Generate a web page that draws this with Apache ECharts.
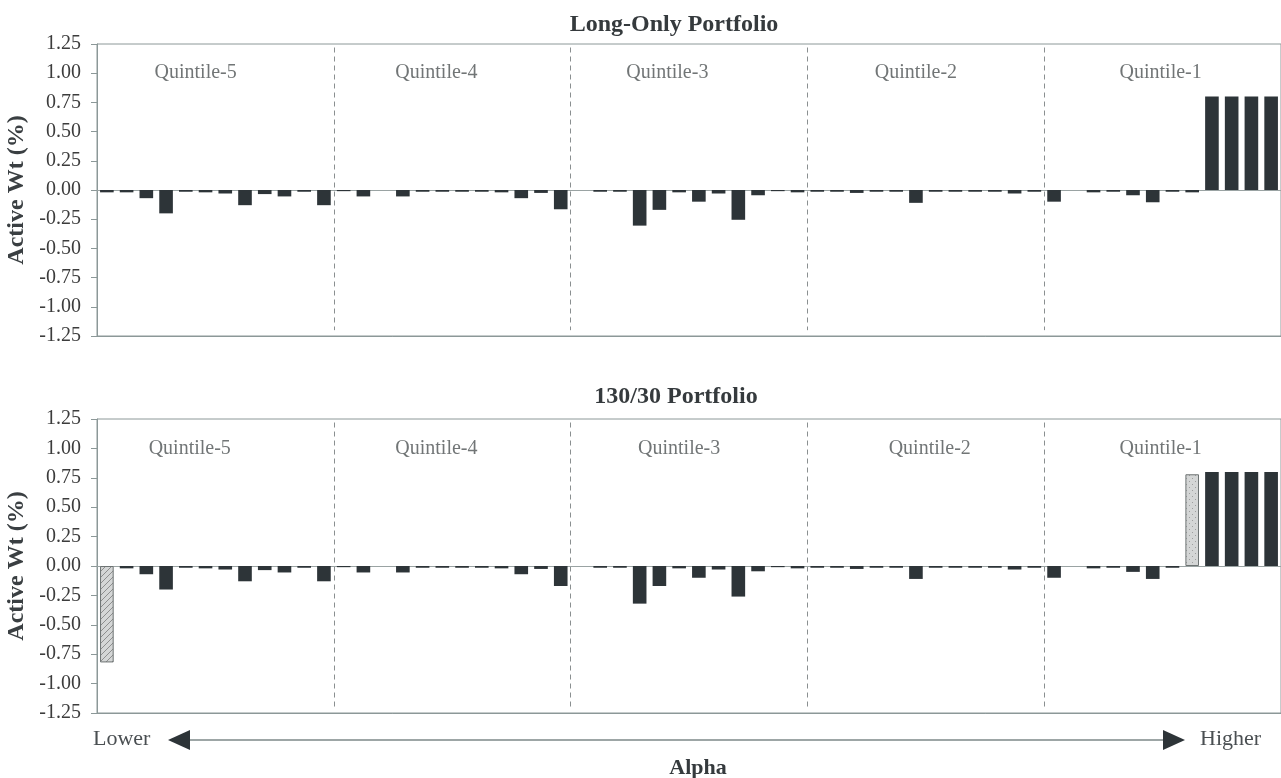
<!DOCTYPE html>
<html><head><meta charset="utf-8">
<script src="https://cdn.jsdelivr.net/npm/echarts@6/dist/echarts.min.js"></script>
<style>html,body{margin:0;padding:0;background:#fff}#c{width:1281px;height:778px}</style>
</head><body><div id="c"></div>
<script>
// ---------- DATA ----------
const categories = ['1','2','3','4','5','6','7','8','9','10','11','12',
  '13','14','15','16','17','18','19','20','21','22','23','24',
  '25','26','27','28','29','30','31','32','33','34','35','36',
  '37','38','39','40','41','42','43','44','45','46','47','48',
  '49','50','51','52','53','54','55','56','57','58','59','60'];
const quintileNames = ['Quintile-5','Quintile-4','Quintile-3','Quintile-2','Quintile-1'];
const stocksPerQuintile = 12;
const yMin = -1.25, yMax = 1.25, yStep = 0.25;

// Long-only portfolio active weights (%)
const longOnly = [
  -0.02,-0.02,-0.07,-0.20,-0.015,-0.02,-0.03,-0.13,-0.035,-0.055,-0.015,-0.13,
  -0.01,-0.055,0,-0.055,-0.015,-0.015,-0.015,-0.015,-0.02,-0.07,-0.025,-0.165,
  0,-0.015,-0.015,-0.305,-0.17,-0.02,-0.10,-0.03,-0.255,-0.045,-0.01,-0.02,
  -0.015,-0.015,-0.025,-0.015,-0.015,-0.11,-0.015,-0.015,-0.015,-0.015,-0.03,-0.015,
  -0.10,0,-0.02,-0.015,-0.045,-0.105,-0.015,-0.02,0.80,0.80,0.80,0.80];

// 130/30 portfolio: core positions
const core13030 = [
  null,-0.02,-0.07,-0.20,-0.015,-0.02,-0.03,-0.13,-0.035,-0.055,-0.015,-0.13,
  -0.01,-0.055,0,-0.055,-0.015,-0.015,-0.015,-0.015,-0.02,-0.07,-0.025,-0.17,
  0,-0.015,-0.015,-0.32,-0.17,-0.02,-0.10,-0.03,-0.26,-0.045,-0.01,-0.02,
  -0.015,-0.015,-0.025,-0.015,-0.015,-0.11,-0.015,-0.015,-0.015,-0.015,-0.03,-0.015,
  -0.10,0,-0.02,-0.015,-0.05,-0.11,-0.015,null,0.80,0.80,0.80,0.80];
// 130/30 portfolio: extension (short / extra long) positions
const ext13030 = [
  -0.82,null,null,null,null,null,null,null,null,null,null,null,
  null,null,null,null,null,null,null,null,null,null,null,null,
  null,null,null,null,null,null,null,null,null,null,null,null,
  null,null,null,null,null,null,null,null,null,null,null,null,
  null,null,null,null,null,null,null,0.78,null,null,null,null];

// ---------- STYLE ----------
const SERIF = '"Liberation Serif","Times New Roman",serif';
const DARK = '#2d3438';
const AXIS = '#8c9898';
const labelShiftTop = [-1.0,-0.8,-1.1,-0.5,-0.1];
const labelShiftBot = [-1.3,-0.8,-0.5,0.2,-0.1];

function makePattern(kind){
  const c = document.createElement('canvas');
  c.width = 6; c.height = 6;
  const g = c.getContext('2d');
  g.fillStyle = '#d4d6d6'; g.fillRect(0,0,6,6);
  g.strokeStyle = 'rgba(70,70,70,0.5)'; g.fillStyle='rgba(90,90,90,0.45)';
  if(kind==='hatch'){
    g.lineWidth = 1;
    g.beginPath(); g.moveTo(0,6); g.lineTo(6,0); g.moveTo(-3,3); g.lineTo(3,-3); g.moveTo(3,9); g.lineTo(9,3); g.stroke();
  } else {
    g.fillRect(1,1,1,1); g.fillRect(4,4,1,1);
  }
  return {image:c, repeat:'repeat'};
}
const hatch = makePattern('hatch');
const dots = makePattern('dots');

const chart = echarts.init(document.getElementById('c'), null, {renderer:'canvas'});

const grids = [
  {left:97, right:0, top:44, height:292},
  {left:97, right:0, top:419, height:294}
];

function yAxisFor(gi){
  return {
    type:'value', gridIndex:gi, min:yMin, max:yMax, interval:yStep,
    name:'Active Wt (%)', nameLocation:'middle', nameGap:57,
    nameTextStyle:{fontFamily:SERIF, fontWeight:'bold', fontSize:24, color:'#3a3f42'},
    axisLine:{show:true, onZero:false, lineStyle:{color:AXIS, width:1}},
    axisTick:{show:true, length:6, lineStyle:{color:AXIS}},
    axisLabel:{fontFamily:SERIF, fontSize:20, color:'#3c3c3c', margin:16,
      formatter:v=>v.toFixed(2)},
    splitLine:{show:false}
  };
}
function catAxisFor(gi){
  return {type:'category', gridIndex:gi, data:categories,
    axisLine:{show:true, onZero:false, lineStyle:{color:AXIS}},
    axisTick:{show:false}, axisLabel:{show:false}, splitLine:{show:false}};
}
function valAxisFor(gi){
  return {type:'value', gridIndex:gi, min:-0.5, max:categories.length-0.5,
    show:false, axisLine:{onZero:false}, splitLine:{show:false}};
}

function overlaySeries(xi, yi, shifts){
  const lbl = quintileNames.map((q,i)=>[i*stocksPerQuintile + (stocksPerQuintile-1)/2 + shifts[i], 1.0, q]);
  const divs = [];
  for(let i=1;i<quintileNames.length;i++){
    const x = i*stocksPerQuintile - 0.5;
    divs.push([{coord:[x, yMax-0.03]},{coord:[x, yMin+0.05]}]);
  }
  return {
    type:'scatter', xAxisIndex:xi, yAxisIndex:yi, z:1, silent:true,
    symbolSize:1, itemStyle:{color:'rgba(0,0,0,0)'},
    data:lbl,
    label:{show:true, position:'inside', formatter:p=>p.data[2],
      fontFamily:SERIF, fontSize:20, color:'#4d5254'},
    markLine:{silent:true, symbol:['none','none'], z:1,
      label:{show:false},
      lineStyle:{color:'#8a8f90', type:[5,4], width:1},
      data:divs.concat([[{coord:[-0.5,0], lineStyle:{type:'solid', color:'#9aa3a3', width:1}},
                         {coord:[categories.length-0.5,0], lineStyle:{type:'solid', color:'#9aa3a3', width:1}}]])}
  };
}

const option = {
  animation:false,
  backgroundColor:'#fff',
  grid: grids.map(g=>Object.assign({show:true, borderColor:AXIS, borderWidth:1, backgroundColor:'transparent', containLabel:false, outerBoundsMode:'none'}, g)),
  xAxis:[catAxisFor(0), valAxisFor(0), catAxisFor(1), valAxisFor(1)],
  yAxis:[yAxisFor(0), yAxisFor(1)],
  series:[
    overlaySeries(1,0,labelShiftTop),
    overlaySeries(3,1,labelShiftBot),
    {type:'bar', xAxisIndex:0, yAxisIndex:0, data:longOnly, barWidth:'69%',
      itemStyle:{color:DARK}, z:3},
    {type:'bar', xAxisIndex:2, yAxisIndex:1, data:core13030, stack:'p', barWidth:'69%',
      itemStyle:{color:DARK}, z:3},
    {type:'bar', xAxisIndex:2, yAxisIndex:1, stack:'p', barWidth:'69%', z:3,
      data: ext13030.map(v => v===null ? null : {value:v,
        itemStyle:{color: v<0 ? hatch : dots, borderColor:'#6d7373', borderWidth:1}})}
  ],
  graphic:[
    {type:'text', x:674, y:25, style:{text:'Long-Only Portfolio', font:'bold 24px '+SERIF, fill:'#353a3d', textAlign:'center', textVerticalAlign:'middle'}},
    {type:'text', x:676, y:397, style:{text:'130/30 Portfolio', font:'bold 24px '+SERIF, fill:'#353a3d', textAlign:'center', textVerticalAlign:'middle'}},
    {type:'text', x:93, y:739, style:{text:'Lower', font:'22px '+SERIF, fill:'#4a4f52', textAlign:'left', textVerticalAlign:'middle'}},
    {type:'text', x:1200, y:739, style:{text:'Higher', font:'22px '+SERIF, fill:'#4a4f52', textAlign:'left', textVerticalAlign:'middle'}},
    {type:'text', x:698, y:768, style:{text:'Alpha', font:'bold 22px '+SERIF, fill:'#353a3d', textAlign:'center', textVerticalAlign:'middle'}},
    {type:'line', shape:{x1:188, y1:740, x2:1165, y2:740}, style:{stroke:'#7d8888', lineWidth:1.5}},
    {type:'polygon', shape:{points:[[168,740],[190,730],[190,750]]}, style:{fill:'#2d3438'}},
    {type:'polygon', shape:{points:[[1185,740],[1163,730],[1163,750]]}, style:{fill:'#2d3438'}}
  ]
};
chart.setOption(option);
</script></body></html>
